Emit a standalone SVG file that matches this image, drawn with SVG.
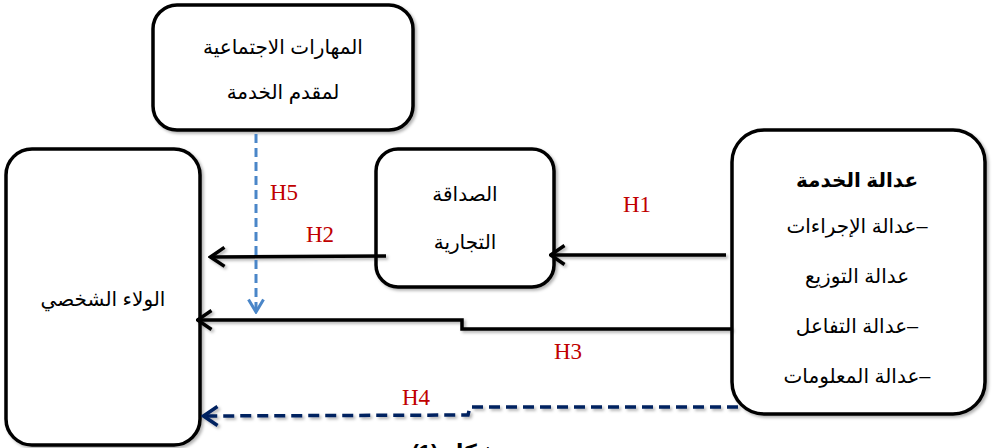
<svg xmlns="http://www.w3.org/2000/svg" width="993" height="448" viewBox="0 0 993 448">
<defs>
<filter id="sh" filterUnits="userSpaceOnUse" x="0" y="0" width="993" height="448">
<feDropShadow dx="2" dy="2" stdDeviation="1.5" flood-color="#000" flood-opacity="0.3"/>
</filter>
<marker id="ab" viewBox="0 0 18 22" refX="16.5" refY="11" markerWidth="18" markerHeight="22" markerUnits="userSpaceOnUse" orient="auto">
<path d="M2,1.5 L16,11 L2,20.5" fill="none" stroke="#000" stroke-width="3.5"/>
</marker>
<marker id="an" viewBox="0 0 18 22" refX="16.5" refY="11" markerWidth="18" markerHeight="22" markerUnits="userSpaceOnUse" orient="auto">
<path d="M2,1.5 L16,11 L2,20.5" fill="none" stroke="#002060" stroke-width="3.5"/>
</marker>
<marker id="al" viewBox="0 0 18 16" refX="9" refY="15" markerWidth="18" markerHeight="16" markerUnits="userSpaceOnUse">
<path d="M1.5,1.5 L9,14 L16.5,1.5" fill="none" stroke="#4a86c8" stroke-width="3"/>
</marker>
</defs>
<style>
.box{fill:#fff;stroke:#000;stroke-width:3.5;filter:url(#sh)}
.t{font-family:"Liberation Sans","DejaVu Sans",sans-serif;font-size:20px;fill:#000;text-anchor:middle}
.h{font-family:"Liberation Serif","Times New Roman",serif;font-size:23px;fill:#c00000}
.ln{fill:none;stroke:#000;stroke-width:3.5;filter:url(#sh)}
.dn{fill:none;stroke:#002060;stroke-width:3.5;stroke-dasharray:11,6;filter:url(#sh)}
.db{fill:none;stroke:#4a86c8;stroke-width:3;stroke-dasharray:9,5}
</style>
<g id="node-skills">
<rect class="box" x="153" y="5" width="260" height="125" rx="24"/>
<text class="t" x="283" y="54">المهارات الاجتماعية</text>
<text class="t" x="283" y="99">لمقدم الخدمة</text>
</g>
<g id="node-loyalty">
<rect class="box" x="6" y="149" width="194" height="296" rx="26"/>
<text class="t" x="103" y="306">الولاء الشخصي</text>
</g>
<g id="node-friendship">
<rect class="box" x="376" y="149" width="178" height="138" rx="22"/>
<text class="t" x="465" y="201">الصداقة</text>
<text class="t" x="465" y="249">التجارية</text>
</g>
<g id="node-justice">
<rect class="box" x="732" y="130" width="253" height="284" rx="32"/>
<text class="t" x="857" y="187" font-weight="bold">عدالة الخدمة</text>
<text class="t" x="857" y="233">عدالة الإجراءات–</text>
<text class="t" x="857" y="283">عدالة التوزيع</text>
<text class="t" x="857" y="333">عدالة التفاعل–</text>
<text class="t" x="857" y="383">عدالة  المعلومات–</text>
</g>
<g id="connectors">
<path class="ln" d="M386,256 L210,257" marker-end="url(#ab)"/>
<path class="ln" d="M726,255 L550,255" marker-end="url(#ab)"/>
<path class="ln" d="M732,329 L462,329 L462,320 L197,320" marker-end="url(#ab)"/>
<path class="dn" d="M738,407 L470,407 L468,415 L203,416" marker-end="url(#an)"/>
<path class="db" d="M256,134 L256,313" marker-end="url(#al)"/>
</g>
<g id="labels">
<text class="h" x="270" y="200">H5</text>
<text class="h" x="306" y="242">H2</text>
<text class="h" x="623" y="212">H1</text>
<text class="h" x="554" y="359">H3</text>
<text class="h" x="402" y="405">H4</text>
<text x="455" y="460" font-family="'Liberation Sans','DejaVu Sans',sans-serif" font-size="22" font-weight="bold" text-anchor="middle">شكل (1)</text>
</g>
</svg>
